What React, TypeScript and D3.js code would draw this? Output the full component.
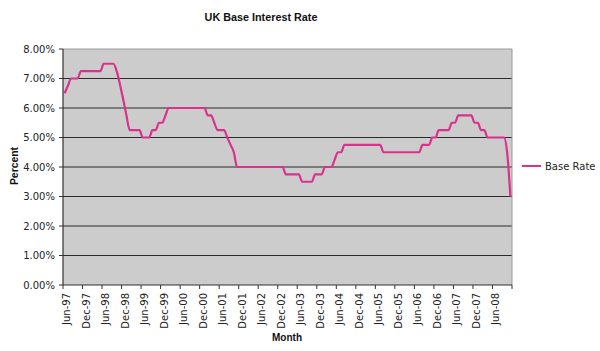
import React from "react";
import * as d3 from "d3";

const startMonth = new Date(1997, 5, 1); // Jun-97
const rates: number[] = [
  6.5, 6.75, 7.0, 7.0, 7.0, 7.25, 7.25, 7.25, 7.25, 7.25, 7.25, 7.25,
  7.5, 7.5, 7.5, 7.5, 7.25, 6.8, 6.3, 5.75, 5.25, 5.25, 5.25, 5.25,
  5.0, 5.0, 5.0, 5.25, 5.25, 5.5, 5.5, 5.75, 6.0, 6.0, 6.0, 6.0,
  6.0, 6.0, 6.0, 6.0, 6.0, 6.0, 6.0, 6.0, 5.75, 5.75, 5.5, 5.25,
  5.25, 5.25, 5.0, 4.75, 4.5, 4.0, 4.0, 4.0, 4.0, 4.0, 4.0, 4.0,
  4.0, 4.0, 4.0, 4.0, 4.0, 4.0, 4.0, 4.0, 3.75, 3.75, 3.75, 3.75,
  3.75, 3.5, 3.5, 3.5, 3.5, 3.75, 3.75, 3.75, 4.0, 4.0, 4.0, 4.25,
  4.5, 4.5, 4.75, 4.75, 4.75, 4.75, 4.75, 4.75, 4.75, 4.75, 4.75, 4.75,
  4.75, 4.75, 4.5, 4.5, 4.5, 4.5, 4.5, 4.5, 4.5, 4.5, 4.5, 4.5,
  4.5, 4.5, 4.75, 4.75, 4.75, 5.0, 5.0, 5.25, 5.25, 5.25, 5.25, 5.5,
  5.5, 5.75, 5.75, 5.75, 5.75, 5.75, 5.5, 5.5, 5.25, 5.25, 5.0, 5.0,
  5.0, 5.0, 5.0, 5.0, 4.5, 3.0,
];
const tickLabels: string[] = [
  "Jun-97", "Dec-97", "Jun-98", "Dec-98", "Jun-99", "Dec-99", "Jun-00", "Dec-00",
  "Jun-01", "Dec-01", "Jun-02", "Dec-02", "Jun-03", "Dec-03", "Jun-04", "Dec-04",
  "Jun-05", "Dec-05", "Jun-06", "Dec-06", "Jun-07", "Dec-07", "Jun-08",
];
const yTicks: number[] = [0, 1, 2, 3, 4, 5, 6, 7, 8];
const seriesName = "Base Rate";
const title = "UK Base Interest Rate";

const W = 600, H = 351;
const left = 63, right = 512, top = 49, bottom = 285;
const LINE = "#d9318c";
const FONT = "'DejaVu Sans', Verdana, sans-serif";
const BFONT = "'Liberation Sans', Arial, sans-serif";

export default function App() {
  const months = d3.timeMonth.range(startMonth, d3.timeMonth.offset(startMonth, rates.length));
  const x = d3.scaleLinear().domain([0, months.length]).range([left, right]);
  const y = d3.scaleLinear().domain([0, 8]).range([bottom, top]);
  const line = d3
    .line<number>()
    .x((_, i) => x(i + 0.5))
    .y((d) => y(d))
    .curve(d3.curveMonotoneX);
  const fmt = d3.format(".2f");
  const tickIdx = tickLabels.map((_, i) => i * 6);

  return (
    <svg
      width={W}
      height={H}
      style={{ position: "absolute", left: 0, top: 0, background: "#fff" }}
    >
      <rect x={0} y={0} width={W} height={H} fill="#fff" />
      <text x={261} y={21} textAnchor="middle" fontFamily={BFONT} fontWeight="bold" fontSize={10.8} fill="#111">
        {title}
      </text>
      <rect x={left} y={top} width={right - left} height={bottom - top} fill="#cccccc" />
      {yTicks.filter((t) => t > 0 && t < 8).map((t) => (
        <line key={t} x1={left} x2={right} y1={y(t)} y2={y(t)} stroke="#2b2b2b" strokeWidth={1.2} />
      ))}
      <line x1={left} x2={right} y1={top} y2={top} stroke="#9a9a9a" strokeWidth={1} />
      <line x1={right} x2={right} y1={top} y2={bottom} stroke="#9a9a9a" strokeWidth={1} />
      <path d={line(rates) || ""} fill="none" stroke={LINE} strokeWidth={2.2} strokeLinejoin="round" />
      {/* Y axis */}
      <line x1={left} x2={left} y1={top} y2={bottom} stroke="#333" strokeWidth={1.2} />
      {yTicks.map((t) => (
        <g key={t}>
          <line x1={left - 4} x2={left} y1={y(t)} y2={y(t)} stroke="#333" />
          <text x={55} y={y(t)} dy="0.35em" textAnchor="end" fontFamily={FONT} fontSize={10} fill="#222">
            {fmt(t)}%
          </text>
        </g>
      ))}
      {/* X axis */}
      <line x1={left} x2={right} y1={bottom} y2={bottom} stroke="#333" strokeWidth={1.2} />
      {[...tickIdx, months.length].map((i) => (
        <line key={i} x1={x(i)} x2={x(i)} y1={bottom} y2={bottom + 4} stroke="#333" />
      ))}
      {tickLabels.map((lab, k) => (
        <text
          key={lab}
          transform={`translate(${x(tickIdx[k]) + 7},${bottom + 8}) rotate(-90)`}
          textAnchor="end"
          fontFamily={FONT}
          fontSize={10}
          fill="#222"
        >
          {lab}
        </text>
      ))}
      <text x={287} y={341} textAnchor="middle" fontFamily={BFONT} fontWeight="bold" fontSize={10} fill="#111">
        Month
      </text>
      <text
        transform={`translate(18,166) rotate(-90)`}
        textAnchor="middle"
        fontFamily={BFONT}
        fontWeight="bold"
        fontSize={10.4}
        fill="#111"
      >
        Percent
      </text>
      {/* Legend */}
      <line x1={522} x2={541} y1={166} y2={166} stroke={LINE} strokeWidth={2} />
      <text x={545} y={166} dy="0.35em" fontFamily={FONT} fontSize={10} fill="#222">
        {seriesName}
      </text>
    </svg>
  );
}
